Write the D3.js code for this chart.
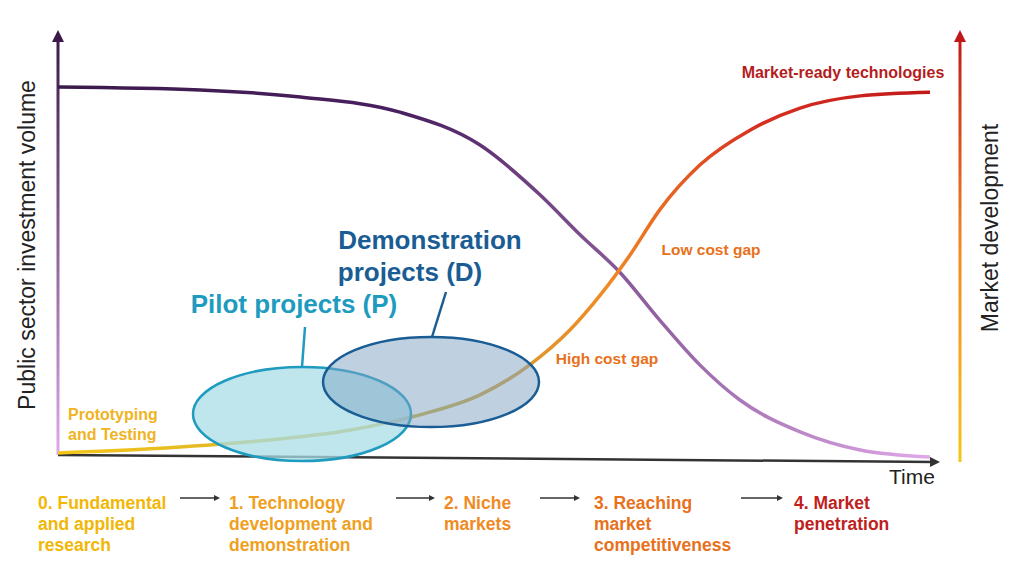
<!DOCTYPE html>
<html><head><meta charset="utf-8">
<script src="https://cdn.jsdelivr.net/npm/d3@7"></script>
<style>body{margin:0;background:#fff}svg{font-family:Arial,"Liberation Sans",sans-serif}</style>
</head><body>
<script>
// curve data: time (0-100) vs level (0-100)
const investment = [[0,100],[16.3,99.2],[27.8,97.3],[39.2,93.2],[48.4,84.3],[55.3,70.8],[59.9,60],[64.4,50],[69,37],[73.6,24.9],[78.2,15.4],[85.1,6.8],[92,1.9],[100,0]];
const market = [[0,1.1],[10.6,2.2],[22,4.1],[33.5,7.3],[41.5,11.4],[48.4,16.8],[54.1,24.9],[58.7,34.3],[62.2,43.8],[65.6,54.6],[69,66.8],[73.6,78.9],[79.4,88.4],[85.1,94.3],[92,97.6],[100,98.6]];
const stages = [
  {lines:["0. Fundamental","and applied","research"], color:"#f2b705"},
  {lines:["1. Technology","development and","demonstration"], color:"#f0a020"},
  {lines:["2. Niche","markets"], color:"#f08a24"},
  {lines:["3. Reaching","market","competitiveness"], color:"#e8711c"},
  {lines:["4. Market","penetration"], color:"#c0211d"}
];
const stageX = [38,229,444,594,794];
const arrowX = [[180,217],[396,432],[540,577],[741,780]];

const svg = d3.select('body').append('svg').attr('width',1024).attr('height',576);
const x = d3.scaleLinear().domain([0,100]).range([58,930]);
const y = d3.scaleLinear().domain([0,100]).range([457,87]);
const defs = svg.append('defs');

function grad(id, stops, x1,y1,x2,y2){
  const g = defs.append('linearGradient').attr('id',id).attr('gradientUnits','userSpaceOnUse')
    .attr('x1',x1).attr('y1',y1).attr('x2',x2).attr('y2',y2);
  stops.forEach(s=>g.append('stop').attr('offset',s[0]).attr('stop-color',s[1]));
}
grad('gPurple',[[0,'#3a1a4a'],[0.4,'#4a2060'],[0.65,'#8a5a9a'],[1,'#e0a8e8']],58,0,930,0);
grad('gOrange',[[0,'#f5c518'],[0.45,'#c8a838'],[0.63,'#f08a24'],[0.8,'#d83020'],[1,'#c01818']],58,0,930,0);
grad('gLeft',[[0,'#e0a8e8'],[1,'#3a1a4a']],0,455,0,35);
grad('gRight',[[0,'#f5c518'],[0.5,'#f08a24'],[1,'#c01818']],0,462,0,35);

function marker(id,color){
  defs.append('marker').attr('id',id).attr('viewBox','0 0 10 10').attr('refX',5).attr('refY',5)
    .attr('markerWidth',4).attr('markerHeight',4).attr('orient','auto')
    .append('path').attr('d','M0,0L10,5L0,10z').attr('fill',color);
}
marker('mL','#3a1a4a'); marker('mR','#c01818'); marker('mX','#333'); marker('mS','#333');

// axes
svg.append('line').attr('x1',58).attr('y1',455).attr('x2',58.01).attr('y2',36)
  .attr('stroke','url(#gLeft)').attr('stroke-width',3).attr('marker-end','url(#mL)');
svg.append('line').attr('x1',960).attr('y1',462).attr('x2',960.01).attr('y2',36)
  .attr('stroke','url(#gRight)').attr('stroke-width',3).attr('marker-end','url(#mR)');
svg.append('line').attr('x1',58).attr('y1',455).attr('x2',935).attr('y2',462)
  .attr('stroke','#333').attr('stroke-width',2.5).attr('marker-end','url(#mX)');

svg.append('text').attr('transform','translate(35,245) rotate(-90)').attr('text-anchor','middle')
  .attr('font-size',23).attr('fill','#222').text('Public sector investment volume');
svg.append('text').attr('transform','translate(998,228) rotate(-90)').attr('text-anchor','middle')
  .attr('font-size',23).attr('fill','#222').text('Market development');
svg.append('text').attr('x',912).attr('y',484).attr('text-anchor','middle').attr('font-size',21).attr('fill','#222').text('Time');

const line = d3.line().x(d=>x(d[0])).y(d=>y(d[1])).curve(d3.curveMonotoneX);
svg.append('path').attr('d',line(investment)).attr('fill','none').attr('stroke','url(#gPurple)').attr('stroke-width',3.5);
svg.append('path').attr('d',line(market)).attr('fill','none').attr('stroke','url(#gOrange)').attr('stroke-width',3.5);

// ellipses
svg.append('ellipse').attr('cx',302).attr('cy',414).attr('rx',109).attr('ry',47)
  .attr('fill','#a8dde6').attr('fill-opacity',0.75).attr('stroke','#1e9bbf').attr('stroke-width',2.5);
svg.append('ellipse').attr('cx',431).attr('cy',382).attr('rx',108).attr('ry',45)
  .attr('fill','#7fa3c4').attr('fill-opacity',0.5).attr('stroke','#1a5d94').attr('stroke-width',2.5);
svg.append('line').attr('x1',302).attr('y1',367).attr('x2',305).attr('y2',327).attr('stroke','#1e9bbf').attr('stroke-width',2.5);
svg.append('line').attr('x1',432).attr('y1',337).attr('x2',446).attr('y2',292).attr('stroke','#1a5d94').attr('stroke-width',2.5);

function txt(xp,yp,s,size,color,anchor){
  svg.append('text').attr('x',xp).attr('y',yp).attr('font-size',size).attr('font-weight','bold')
    .attr('fill',color).attr('text-anchor',anchor||'start').text(s);
}
txt(430,249,'Demonstration',26,'#1a5d94','middle');
txt(410,281,'projects (D)',26,'#1a5d94','middle');
txt(294,313,'Pilot projects (P)',26,'#1e9bbf','middle');
txt(843,78,'Market-ready technologies',16,'#b51d1d','middle');
txt(711,255,'Low cost gap',15.5,'#e8711c','middle');
txt(607,364,'High cost gap',15.5,'#e8711c','middle');
txt(68,420,'Prototyping',16,'#f0b323');
txt(68,440,'and Testing',16,'#f0b323');

stages.forEach((s,i)=>s.lines.forEach((l,j)=>txt(stageX[i],509+j*21,l,17.5,s.color)));
arrowX.forEach(a=>svg.append('line').attr('x1',a[0]).attr('y1',498).attr('x2',a[1]).attr('y2',498)
  .attr('stroke','#333').attr('stroke-width',1.5).attr('marker-end','url(#mS)'));
</script>
</body></html>
